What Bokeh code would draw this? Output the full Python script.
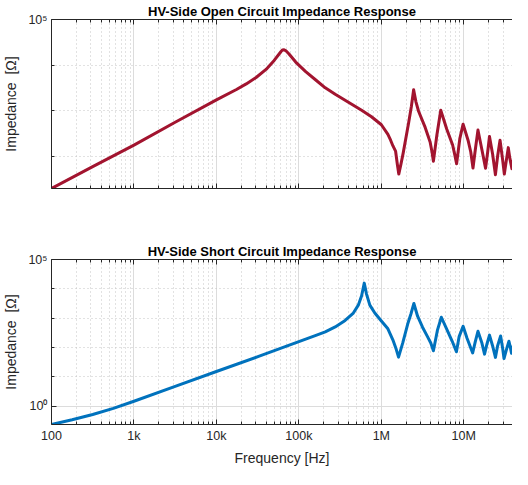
from bokeh.plotting import figure
from bokeh.layouts import column
from bokeh.models import FixedTicker, LogAxis, Range1d
from bokeh.embed import file_html
from bokeh.resources import INLINE

# ---- data (Hz, Ohm) ----
freq_oc = [100, 316, 1000, 3160, 10000, 17500, 23000, 30300, 40000, 50200,
           60500, 63100, 66200, 69200, 76000, 91600, 121000, 159000, 209000, 276000,
           399000, 577000, 760000, 1.002e6, 1.202e6, 1.297e6, 1.380e6, 1.489e6, 1.567e6, 1.629e6,
           1.738e6, 1.841e6, 2.148e6, 2.317e6, 2.466e6, 2.630e6, 2.831e6, 3.404e6, 3.908e6, 4.121e6,
           4.285e6, 4.710e6, 5.260e6, 6.209e6, 7.328e6, 7.762e6, 8.185e6, 8.954e6, 9.817e6, 1.127e7,
           1.216e7, 1.294e7, 1.380e7, 1.486e7, 1.660e7, 1.837e7, 1.950e7, 2.051e7, 2.239e7, 2.421e7,
           2.570e7, 2.754e7, 2.951e7, 3.105e7, 3.273e7, 3.467e7, 3.631e7, 3.837e7, 4.074e7, 4.285e7,
           4.467e7, 4.603e7, 4.955e7]
z_oc = [20.0, 60.3, 178, 562, 1740, 2940, 3890, 5380, 8070, 12700,
        19700, 21400, 21700, 20900, 17600, 11700, 7210, 4800, 3200, 2310,
        1540, 1030, 743, 497, 305, 228, 173, 132, 66.1, 41.4,
        70.8, 119, 555, 1260, 2900, 1580, 982, 435, 209, 126,
        79.3, 290, 1030, 401, 179, 112, 69.5, 246, 511, 228,
        126, 56.2, 141, 380, 141, 55.5, 126, 275, 112, 40.1,
        100, 228, 89.1, 41.4, 79.4, 157, 89.1, 54.5, 105, 193,
        112, 79.3, 178]

freq_sc = [100, 178, 316, 562, 1000, 3160, 10000, 33100, 100000, 158000,
           209000, 276000, 364000, 458000, 526000, 577000, 621000, 662000, 726000, 834000,
           1.002e6, 1.202e6, 1.380e6, 1.517e6, 1.618e6, 1.820e6, 2.089e6, 2.291e6, 2.483e6, 2.754e6,
           3.162e6, 3.631e6, 3.981e6, 4.285e6, 4.786e6, 5.346e6, 6.310e6, 7.244e6, 8.147e6, 8.790e6,
           9.817e6, 1.096e7, 1.282e7, 1.380e7, 1.486e7, 1.660e7, 1.786e7, 1.905e7, 2.051e7, 2.239e7,
           2.421e7, 2.570e7, 2.799e7, 2.951e7, 3.076e7, 3.311e7, 3.532e7, 3.673e7, 3.793e7, 3.981e7,
           4.169e7, 4.365e7, 4.571e7, 4.955e7]
z_sc = [0.234, 0.339, 0.513, 0.832, 1.45, 4.68, 15.1, 50.1, 158, 251,
        339, 501, 832, 1490, 2770, 5820, 15600, 6590, 2770, 1490,
        800, 432, 181, 86.1, 46.6, 142, 627, 1410, 3160, 1160,
        490, 234, 141, 76.6, 380, 1070, 380, 162, 71.1, 234,
        525, 204, 64.6, 158, 355, 141, 58.9, 126, 263, 112,
        45.7, 112, 245, 100, 41.7, 89.1, 162, 100, 63.1, 112,
        182, 132, 93.3, 204]

x_major = [1e2, 1e3, 1e4, 1e5, 1e6, 1e7]
x_labels = ["100", "1k", "10k", "100k", "1M", "10M"]
x_minor = [m * d for d in x_major for m in range(2, 10)]
x_limits = (100, 3.9e7)   # visible part of the axis (reference is cut at the right edge)

y_major_oc = [1e5]
y_minor_oc = [1e2, 1e3, 1e4]
y_labels_oc = ["10\u2075"]
y_limits_oc = (20, 1e5)

y_major_sc = [1e0, 1e5]
y_minor_sc = [1e1, 1e2, 1e3, 1e4]
y_labels_sc = ["10\u2070", "10\u2075"]
y_limits_sc = (0.234, 1e5)

titles = ["HV-Side Open Circuit Impedance Response",
          "HV-Side Short Circuit Impedance Response"]
colors = ["#A2142F", "#0072BD"]

FONT = "Liberation Sans"
AX = "#262626"


def style_axis(ax, show_labels=True):
    ax.axis_line_color = AX
    ax.major_tick_line_color = AX
    ax.minor_tick_line_color = AX
    ax.major_tick_in = 5
    ax.major_tick_out = 0
    ax.minor_tick_in = 3
    ax.minor_tick_out = 0
    ax.major_label_text_font = FONT
    ax.major_label_text_color = AX
    ax.axis_label_text_font = FONT
    ax.axis_label_text_color = AX
    ax.axis_label_text_font_style = "normal"
    ax.axis_label_text_font_size = "14px"
    if show_labels:
        ax.major_label_text_font_size = "12.5px"
        ax.major_label_standoff = 4
    else:
        ax.major_label_text_font_size = "0px"
        ax.major_label_standoff = 0


def make_fig(title, freq, z, color, ylim, ymaj, ymin, ylab, show_x, height, bottom):
    xt = FixedTicker(ticks=x_major, minor_ticks=x_minor)
    yt = FixedTicker(ticks=ymaj, minor_ticks=ymin)
    p = figure(width=512, height=height, x_axis_type="log", y_axis_type="log",
               x_range=Range1d(*x_limits), y_range=Range1d(*ylim),
               output_backend="svg", toolbar_location=None,
               min_border_left=45, min_border_right=0, min_border_top=0,
               min_border_bottom=bottom)
    p.outline_line_color = None
    p.background_fill_color = "white"
    p.border_fill_color = "white"
    p.title.text = title
    p.title.text_font = FONT
    p.title.text_font_size = "13px"
    p.title.text_font_style = "bold"
    p.title.text_color = "black"
    p.title.align = "center"
    p.title.standoff = 2

    p.xaxis.ticker = xt
    p.yaxis.ticker = yt
    p.xgrid.ticker = xt
    p.ygrid.ticker = yt
    style_axis(p.xaxis[0], show_x)
    style_axis(p.yaxis[0], True)
    p.xaxis.major_label_overrides = {v: (l if show_x else "") for v, l in zip(x_major, x_labels)}
    p.yaxis.major_label_overrides = {v: l for v, l in zip(ymaj, ylab)}
    p.yaxis.axis_label = "Impedance \u00a0[\u03a9]"
    p.yaxis.axis_label_standoff = 6
    if show_x:
        p.xaxis.axis_label = "Frequency [Hz]"
        p.xaxis.axis_label_standoff = 4

    top = LogAxis(ticker=xt)
    style_axis(top, False)
    top.major_label_overrides = {v: "" for v in x_major}
    p.add_layout(top, "above")

    for g in (p.xgrid[0], p.ygrid[0]):
        g.grid_line_color = "#dcdcdc"
        g.grid_line_width = 1
        g.minor_grid_line_color = "#c4c4c4"
        g.minor_grid_line_dash = "1 3"
        g.minor_grid_line_width = 1

    p.line(freq, z, line_width=3, color=color, line_join="round")
    return p


p1 = make_fig(titles[0], freq_oc, z_oc, colors[0], y_limits_oc, y_major_oc,
              y_minor_oc, y_labels_oc, False, 240, 52)
p2 = make_fig(titles[1], freq_sc, z_sc, colors[1], y_limits_sc, y_major_sc,
              y_minor_sc, y_labels_sc, True, 228, 0)

layout = column(p1, p2, spacing=0)
open("out.html", "w").write(file_html(layout, INLINE))
